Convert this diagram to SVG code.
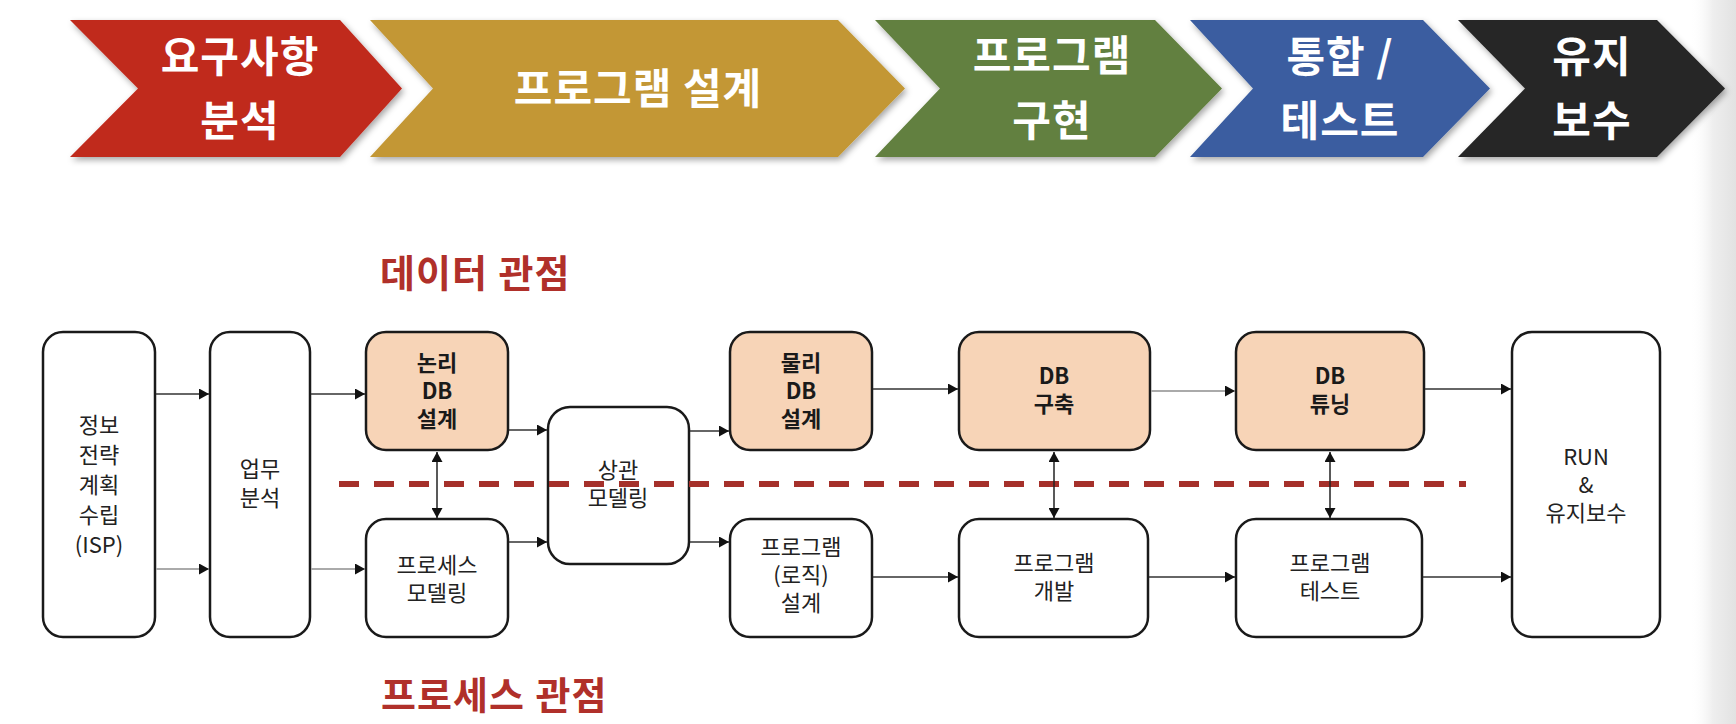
<svg xmlns="http://www.w3.org/2000/svg" width="1736" height="724" viewBox="0 0 1736 724">
<defs>
<style>
.chev{filter:url(#sh);}
.ct{font-family:"Noto Sans CJK KR","Noto Sans",sans-serif;font-weight:700;font-size:42px;fill:#ffffff;text-anchor:middle;letter-spacing:1px;}
.box{fill:#ffffff;stroke:#1a1a1a;stroke-width:2.5;}
.pk{fill:#F7D4B7;stroke:#1a1a1a;stroke-width:2.5;}
.nt{font-family:"Noto Sans CJK KR","Noto Sans",sans-serif;font-size:22px;fill:#222;text-anchor:middle;}
.nb{font-family:"Noto Sans CJK KR","Noto Sans",sans-serif;font-size:22px;font-weight:700;fill:#1a1a1a;text-anchor:middle;}
.ln{stroke:#333;stroke-width:1.5;fill:none;marker-end:url(#ah);}
.lg{stroke:#aaaaaa;stroke-width:1.8;fill:none;marker-end:url(#ah);}
.bd{stroke:#222;stroke-width:1.5;fill:none;marker-end:url(#ah);marker-start:url(#as);}
.ttl{font-family:"Noto Sans CJK KR","Noto Sans",sans-serif;font-weight:700;font-size:38px;fill:#B0302A;letter-spacing:1px;word-spacing:1px;}
</style>
<filter id="sh" x="-5%" y="-10%" width="115%" height="130%">
<feDropShadow dx="2" dy="3" stdDeviation="3" flood-color="#000" flood-opacity="0.35"/>
</filter>
<marker id="ah" markerUnits="userSpaceOnUse" markerWidth="11" markerHeight="11" refX="10" refY="5.5" orient="auto">
<path d="M0,0 L10,5.5 L0,11 z" fill="#111"/>
</marker>
<marker id="as" markerUnits="userSpaceOnUse" markerWidth="11" markerHeight="11" refX="0" refY="5.5" orient="auto">
<path d="M10,0 L0,5.5 L10,11 z" fill="#111"/>
</marker>
<linearGradient id="edge" x1="0" y1="0" x2="1" y2="0">
<stop offset="0" stop-color="#ffffff" stop-opacity="0"/>
<stop offset="0.5" stop-color="#eeeeee"/>
<stop offset="1" stop-color="#e2e2e2"/>
</linearGradient>
</defs>
<rect x="0" y="0" width="1736" height="724" fill="#ffffff"/>
<rect x="1690" y="0" width="46" height="724" fill="url(#edge)"/>

<g id="phase-req">
<polygon class="chev" points="70,20 340,20 402,88.5 340,157 70,157 138,88.5" fill="#C0291D"/>
<text class="ct" x="240" y="72">요구사항</text>
<text class="ct" x="240" y="136">분석</text>
</g>
<g id="phase-design">
<polygon class="chev" points="370,20 838,20 905,88.5 838,157 370,157 433,88.5" fill="#C39734"/>
<text class="ct" x="638" y="104">프로그램 설계</text>
</g>
<g id="phase-impl">
<polygon class="chev" points="875,20 1155,20 1222,88.5 1155,157 875,157 940,88.5" fill="#62803F"/>
<text class="ct" x="1052" y="71">프로그램</text>
<text class="ct" x="1052" y="136">구현</text>
</g>
<g id="phase-test">
<polygon class="chev" points="1190,20 1423,20 1490,88.5 1423,157 1190,157 1253,88.5" fill="#3A5DA0"/>
<text class="ct" x="1340" y="72">통합 /</text>
<text class="ct" x="1340" y="136">테스트</text>
</g>
<g id="phase-maint">
<polygon class="chev" points="1458,20 1657,20 1725,88.5 1657,157 1458,157 1525,88.5" fill="#262626"/>
<text class="ct" x="1592" y="72">유지</text>
<text class="ct" x="1592" y="136">보수</text>
</g>

<g id="title-data"><text class="ttl" x="380" y="287">데이터 관점</text></g>
<g id="title-process"><text class="ttl" x="381" y="709">프로세스 관점</text></g>

<g id="n-isp">
<rect class="box" x="43" y="332" width="112" height="305" rx="20"/>
<text class="nt" x="99" y="433">정보</text>
<text class="nt" x="99" y="463">전략</text>
<text class="nt" x="99" y="493">계획</text>
<text class="nt" x="99" y="523">수립</text>
<text class="nt" x="99" y="553">(ISP)</text>
</g>
<g id="n-biz">
<rect class="box" x="210" y="332" width="100" height="305" rx="20"/>
<text class="nt" x="260" y="477">업무</text>
<text class="nt" x="260" y="506">분석</text>
</g>
<g id="n-logical">
<rect class="pk" x="366" y="332" width="142" height="118" rx="20"/>
<text class="nb" x="437" y="371">논리</text>
<text class="nb" x="437" y="399">DB</text>
<text class="nb" x="437" y="427">설계</text>
</g>
<g id="n-procmodel">
<rect class="box" x="366" y="519" width="142" height="118" rx="20"/>
<text class="nt" x="437" y="573">프로세스</text>
<text class="nt" x="437" y="601">모델링</text>
</g>
<g id="n-corr">
<rect class="box" x="548" y="407" width="141" height="157" rx="22"/>
<text class="nt" x="618" y="478">상관</text>
<text class="nt" x="618" y="506">모델링</text>
</g>
<g id="n-physical">
<rect class="pk" x="730" y="332" width="142" height="118" rx="20"/>
<text class="nb" x="801" y="371">물리</text>
<text class="nb" x="801" y="399">DB</text>
<text class="nb" x="801" y="427">설계</text>
</g>
<g id="n-progdesign">
<rect class="box" x="730" y="519" width="142" height="118" rx="20"/>
<text class="nt" x="801" y="555">프로그램</text>
<text class="nt" x="801" y="583">(로직)</text>
<text class="nt" x="801" y="611">설계</text>
</g>
<g id="n-dbbuild">
<rect class="pk" x="959" y="332" width="191" height="118" rx="20"/>
<text class="nb" x="1054" y="384">DB</text>
<text class="nb" x="1054" y="412">구축</text>
</g>
<g id="n-progdev">
<rect class="box" x="959" y="519" width="189" height="118" rx="20"/>
<text class="nt" x="1054" y="571">프로그램</text>
<text class="nt" x="1054" y="599">개발</text>
</g>
<g id="n-dbtune">
<rect class="pk" x="1236" y="332" width="188" height="118" rx="20"/>
<text class="nb" x="1330" y="384">DB</text>
<text class="nb" x="1330" y="412">튜닝</text>
</g>
<g id="n-progtest">
<rect class="box" x="1236" y="519" width="186" height="118" rx="20"/>
<text class="nt" x="1330" y="571">프로그램</text>
<text class="nt" x="1330" y="599">테스트</text>
</g>
<g id="n-run">
<rect class="box" x="1512" y="332" width="148" height="305" rx="20"/>
<text class="nt" x="1586" y="465">RUN</text>
<text class="nt" x="1586" y="493">&amp;</text>
<text class="nt" x="1586" y="521">유지보수</text>
</g>

<g id="divider">
<line x1="339" y1="484" x2="1466" y2="484" stroke="#A5302A" stroke-width="6" stroke-dasharray="20 15"/>
</g>

<g id="connectors">
<line class="ln" x1="156" y1="394" x2="209" y2="394"/>
<line class="lg" x1="156" y1="569" x2="209" y2="569"/>
<line class="ln" x1="311" y1="394" x2="365" y2="394"/>
<line class="lg" x1="311" y1="569" x2="365" y2="569"/>
<line class="ln" x1="509" y1="430" x2="547" y2="430"/>
<line class="ln" x1="509" y1="542" x2="547" y2="542"/>
<line class="ln" x1="690" y1="431" x2="729" y2="431"/>
<line class="ln" x1="690" y1="542" x2="729" y2="542"/>
<line class="ln" x1="873" y1="389" x2="958" y2="389"/>
<line class="ln" x1="873" y1="577" x2="958" y2="577"/>
<line class="lg" x1="1151" y1="391" x2="1235" y2="391"/>
<line class="ln" x1="1149" y1="577" x2="1235" y2="577"/>
<line class="ln" x1="1425" y1="389" x2="1511" y2="389"/>
<line class="ln" x1="1423" y1="577" x2="1511" y2="577"/>
<line class="bd" x1="437" y1="452" x2="437" y2="518"/>
<line class="bd" x1="1054" y1="452" x2="1054" y2="518"/>
<line class="bd" x1="1330" y1="452" x2="1330" y2="518"/>
</g>
</svg>
